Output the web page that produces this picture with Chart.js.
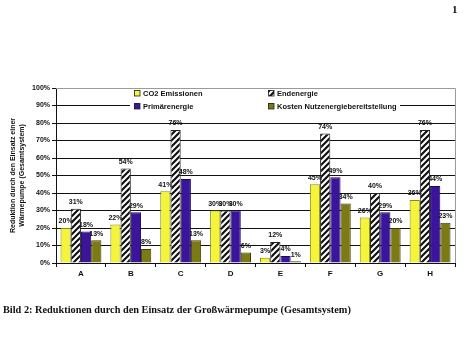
<!DOCTYPE html>
<html><head><meta charset="utf-8">
<script src="https://cdn.jsdelivr.net/npm/chart.js@4.4.1/dist/chart.umd.min.js"></script>
<style>
html,body{margin:0;padding:0;background:#fff;}
#wrap{position:relative;width:474px;height:338px;overflow:hidden;background:#fff;}
canvas{position:absolute;left:0;top:0;}
#cap{position:absolute;left:3px;top:304px;font:bold 10.3px "Liberation Serif",serif;white-space:nowrap;color:#111;}
#pg{position:absolute;left:452px;top:3px;font:bold 11px "Liberation Serif",serif;color:#111;}
</style></head><body>
<div id="wrap"><canvas id="c" width="474" height="338"></canvas>
<div id="pg">1</div>
<div id="cap">Bild 2: Reduktionen durch den Einsatz der Großwärmepumpe (Gesamtsystem)</div></div>
<script>
const categories = ['A','B','C','D','E','F','G','H'];
const seriesNames = ['CO2 Emissionen','Endenergie','Primärenergie','Kosten Nutzenergiebereitstellung'];
const co2 = [20,22,41,30,3,45,26,36];
const endenergie = [31,54,76,30,12,74,40,76];
const primaer = [18,29,48,30,4,49,29,44];
const kosten = [13,8,13,6,1,34,20,23];
const yTickValues = [0,10,20,30,40,50,60,70,80,90,100];
const yTitle = ['Reduktion durch den Einsatz einer','Wärmepumpe (Gesamtsystem)'];

function hatch(){
  const p=document.createElement('canvas'); p.width=6; p.height=6;
  const g=p.getContext('2d');
  g.fillStyle='#fff'; g.fillRect(0,0,6,6);
  g.strokeStyle='#111'; g.lineWidth=2.2;
  g.beginPath();
  g.moveTo(-1,7); g.lineTo(7,-1);
  g.moveTo(-4,4); g.lineTo(4,-4);
  g.moveTo(2,10); g.lineTo(10,2);
  g.stroke();
  return document.getElementById('c').getContext('2d').createPattern(p,'repeat');
}
const hatchPat = hatch();
const fills = ['#F4F43A', hatchPat, '#3A159C', '#7C7A14'];
const borders = ['#8a8a10','#222','#1c0a55','#3e3d05'];
const seriesData = [co2, endenergie, primaer, kosten];

const labelFont = 'bold 7px "Liberation Sans", Arial, sans-serif';

const extras = {
  id:'extras',
  beforeDatasetsDraw(chart){
    const {ctx, chartArea:a} = chart;
    ctx.save();
    ctx.strokeStyle='#9a9a9a'; ctx.lineWidth=1;
    ctx.beginPath();
    ctx.moveTo(a.left, a.top+0.5); ctx.lineTo(a.right+0.5, a.top+0.5); ctx.lineTo(a.right+0.5, a.bottom);
    ctx.stroke();
    ctx.fillStyle='#fff';
    ctx.fillRect(130, a.top+1.5, 270, 24);
    ctx.font = 'bold 7.5px "Liberation Sans", Arial, sans-serif';
    ctx.textBaseline='middle';
    const pos = [[134,a.top+5],[268,a.top+5],[134,a.top+18],[268,a.top+18]];
    seriesNames.forEach((n,i)=>{
      const [x,y]=pos[i];
      ctx.fillStyle=fills[i]; ctx.fillRect(x,y-3,6,6);
      ctx.strokeStyle='#222'; ctx.lineWidth=0.8; ctx.strokeRect(x+0.5,y-2.5,5.5,5.5);
      ctx.fillStyle='#111'; ctx.fillText(n, x+9, y+0.5);
    });
    ctx.restore();
  },
  afterDatasetsDraw(chart){
    const {ctx} = chart;
    ctx.save();
    ctx.font = labelFont; ctx.fillStyle='#111'; ctx.textAlign='center'; ctx.textBaseline='bottom';
    chart.data.datasets.forEach((ds,di)=>{
      chart.getDatasetMeta(di).data.forEach((el,i)=>{
        ctx.fillText(ds.data[i]+'%', el.x, el.y-3);
      });
    });
    ctx.restore();
  }
};

new Chart(document.getElementById('c'), {
  type:'bar',
  data:{
    labels:categories,
    datasets: seriesNames.map((n,i)=>({
      label:n, data:seriesData[i], backgroundColor:fills[i], borderColor:borders[i], borderWidth:1,
      categoryPercentage:0.82, barPercentage:1.0
    }))
  },
  options:{
    responsive:false, animation:false, devicePixelRatio:1,
    layout:{padding:{top:88, right:19, bottom:55, left:0}},
    plugins:{legend:{display:false}, tooltip:{enabled:false}},
    scales:{
      x:{
        grid:{display:true, drawOnChartArea:false, drawTicks:true, tickLength:4, color:'#111', offset:true},
        border:{color:'#111'},
        ticks:{color:'#111', font:{family:'"Liberation Sans", Arial, sans-serif', size:8, weight:'bold'}, padding:2},
        afterFit(s){ s.height = 20; }
      },
      y:{
        min:0, max:100,
        afterBuildTicks(s){ s.ticks = yTickValues.map(v=>({value:v})); },
        grid:{color:'#111', lineWidth:1, tickLength:4},
        border:{color:'#111'},
        ticks:{color:'#111', font:{family:'"Liberation Sans", Arial, sans-serif', size:7, weight:'bold'}, padding:2, callback:v=>v+'%'},
        title:{display:true, text:yTitle, color:'#111', font:{family:'"Liberation Sans", Arial, sans-serif', size:7, weight:'bold', lineHeight:1.35}, padding:{top:8,bottom:0}},
        afterFit(s){ s.width = 56; }
      }
    }
  },
  plugins:[extras]
});
</script>
</body></html>
